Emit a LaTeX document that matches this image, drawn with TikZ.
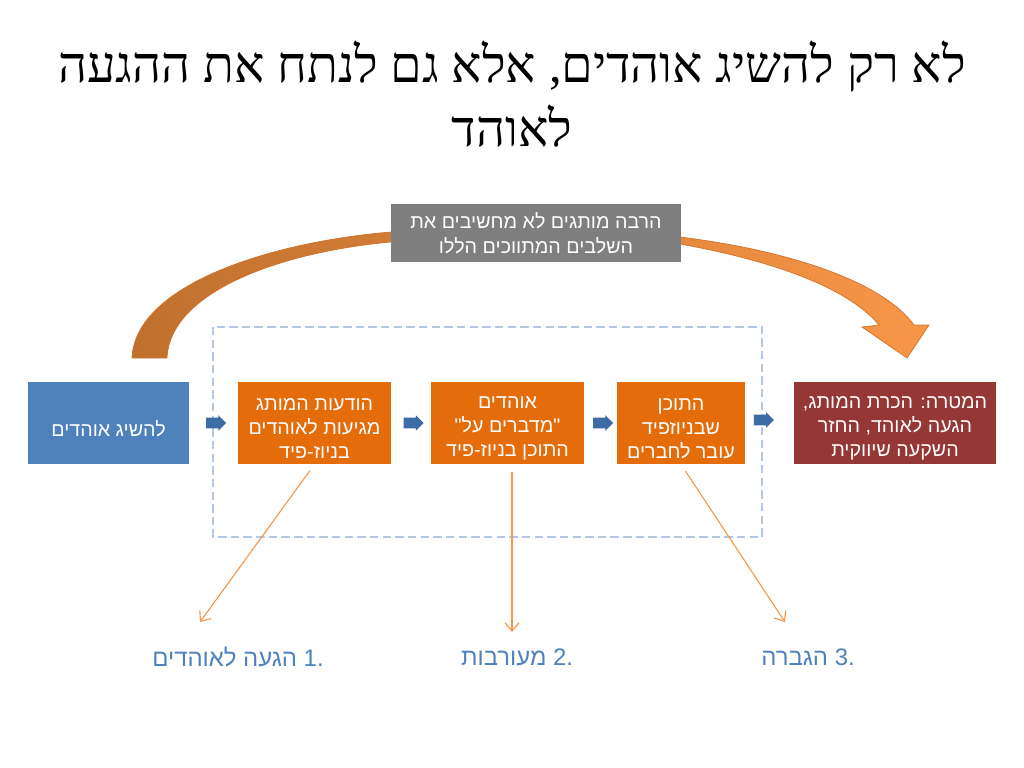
\documentclass[tikz,border=0pt]{standalone}
\usepackage{fontspec}
\usetikzlibrary{shapes.arrows,arrows.meta,calc}
\TeXXeTstate=1
\newfontfamily\hebsans[Script=Hebrew]{Liberation Sans}
\newfontfamily\hebserif[Script=Hebrew]{Liberation Serif}
\newcommand{\rline}[1]{\beginR #1\endR}
\newcommand{\rlow}[1]{\raisebox{-4pt}[\height][\depth]{\rline{#1}}}

\definecolor{stepblue}{HTML}{4F81BD}
\definecolor{steporange}{HTML}{E46C0A}
\definecolor{goalred}{HTML}{953735}
\definecolor{notegray}{HTML}{7F7F7F}
\definecolor{frameblue}{HTML}{B3C6E7}
\definecolor{flowblue}{HTML}{3C6BA6}
\definecolor{pointorange}{HTML}{F79646}
\definecolor{labelblue}{HTML}{4F81BD}
\definecolor{arcdark}{HTML}{C0702E}
\definecolor{arclight}{HTML}{F79646}
\definecolor{arcedge}{HTML}{D0732C}

\tikzset{
  stepbox/.style={fill=#1, text=white, align=center, font=\hebsans\fontsize{14}{17}\selectfont, minimum height=2.05cm, inner sep=2pt},
  flowarrow/.style={single arrow, fill=flowblue, minimum height=0.5cm, inner xsep=0pt, inner ysep=0.125cm, single arrow head extend=0.065cm},
  pointer/.style={pointorange, line width=0.8pt, -{Straight Barb[length=6pt,width=10pt]}, shorten <=0.2cm},
  steplabel/.style={text=labelblue, font=\hebsans\fontsize{17}{20}\selectfont}
}

\begin{document}
\begin{tikzpicture}[x=0.025cm, y=-0.025cm]
    \useasboundingbox (0,0) rectangle (1024,768);
    \node[font=\hebserif\fontsize{36}{45}\selectfont, align=center] (title) at (512,94) {\rline{לא רק להשיג אוהדים, אלא גם לנתח את ההגעה}\\ \rline{לאוהד}};
    % dashed frame round the middle steps
    \draw[frameblue, line width=1.4pt, dash pattern=on 6pt off 3pt] (213,327) rectangle (762,537);
    % big curved arrow
    \shade[left color=arcdark, right color=arclight, draw=arcedge, line width=0.5pt]
        (132,358) .. controls (135,285) and (270,242) .. (391,232)
        .. controls (500,223) and (600,228) .. (680,237)
        .. controls (800,252) and (885,285) .. (914,325)
        -- (929,325) -- (907,358) -- (862,327) -- (879,325)
        .. controls (850,290) and (780,262) .. (680,244)
        .. controls (600,238) and (500,236) .. (391,242)
        .. controls (280,252) and (170,292) .. (167,358) -- cycle;
    \node[fill=notegray, text=white, align=center, font=\hebsans\fontsize{14}{17.5}\selectfont, minimum width=7.25cm, minimum height=1.45cm, inner sep=2pt] (note) at (536,233) {\rline{הרבה מותגים לא מחשיבים את}\\ \rline{השלבים המתווכים הללו}};
    % the steps
    \node[stepbox=stepblue, minimum width=4.03cm] (src) at (108.5,423) {\rlow{להשיג אוהדים}};
    \node[stepbox=steporange, minimum width=3.83cm] (reach) at (314.5,423) {\rlow{הודעות המותג}\\ \rlow{מגיעות לאוהדים}\\ \rlow{בניוז-פיד}};
    \node[stepbox=steporange, minimum width=3.83cm] (talk) at (507.5,423) {\rlow{אוהדים}\\ \rlow{"מדברים על"}\\ \rlow{התוכן בניוז-פיד}};
    \node[stepbox=steporange, minimum width=3.2cm] (share) at (681,423) {\rlow{התוכן}\\ \rlow{שבניוזפיד}\\ \rlow{עובר לחברים}};
    \node[stepbox=goalred, minimum width=5.05cm] (goal) at (895,423) {\rlow{המטרה: הכרת המותג,}\\ \rlow{הגעה לאוהד, החזר}\\ \rlow{השקעה שיווקית}};
    \node[flowarrow] (f1) at ($(src.east)!0.5!(reach.west)$) {};
    \node[flowarrow] (f2) at ($(reach.east)!0.5!(talk.west)$) {};
    \node[flowarrow] (f3) at ($(talk.east)!0.5!(share.west)$) {};
    \node[flowarrow] (f4) at ($(share.east)!0.33!(goal.west)+(0,-3)$) {};
    % labels below
    \node[steplabel] (lab1) at (238,657) {\rline{הגעה לאוהדים} .1};
    \node[steplabel] (lab2) at (517,657) {\rline{מעורבות} .2};
    \node[steplabel] (lab3) at (808,657) {\rline{הגברה} .3};
    \coordinate (a1) at (200,622);
    \coordinate (a2) at (512,632);
    \coordinate (a3) at (785,622);
    \draw[pointer] (reach.south) -- (a1);
    \draw[pointer] (talk.south -| a2) -- (a2);
    \draw[pointer] (share.south) -- (a3);
\end{tikzpicture}
\end{document}
